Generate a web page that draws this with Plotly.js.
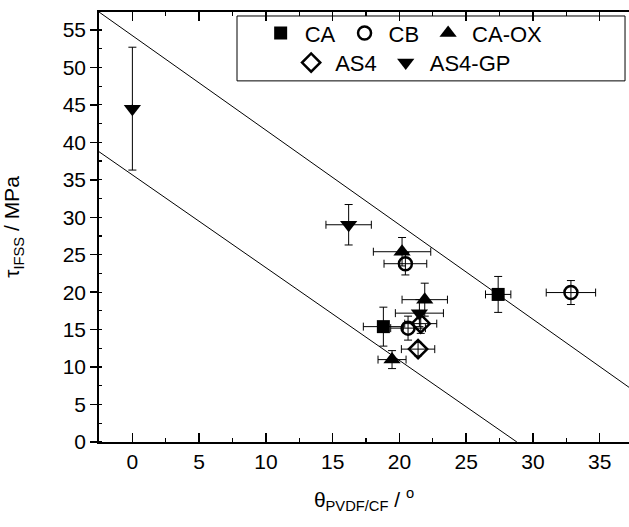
<!DOCTYPE html>
<html>
<head>
<meta charset="utf-8">
<script src="https://cdn.plot.ly/plotly-3.0.1.min.js"></script>
<style>html,body{margin:0;padding:0;background:#fff;}#chart{width:629px;height:527px;}</style>
</head>
<body>
<div id="chart"></div>
<script>
// Series data: theta (x), tau (y), x error, y error
const caX = [18.8, 27.4];
const caY = [15.4, 19.7];
const caEx = [1.5, 0.95];
const caEy = [2.6, 2.4];

const cbX = [20.45, 20.65, 32.85];
const cbY = [23.8, 15.2, 19.95];
const cbEx = [1.6, 1.3, 1.85];
const cbEy = [1.5, 1.6, 1.6];

const caoxX = [20.2, 21.9, 19.45];
const caoxY = [25.4, 19.0, 11.0];
const caoxEx = [2.15, 1.7, 1.05];
const caoxEy = [1.9, 2.2, 1.2];

const as4X = [21.6, 21.4];
const as4Y = [15.8, 12.4];
const as4Ex = [1.2, 1.25];
const as4Ey = [1.3, 0.9];

const as4gpX = [0, 16.2, 21.5];
const as4gpY = [44.5, 29.0, 17.2];
const as4gpEx = [0, 1.7, 1.8];
const as4gpEy = [8.2, 2.7, 1.8];

// Guide lines
const upperLineX = [-2.5, 37.2];
const upperLineY = [57.4, 7.3];
const lowerLineX = [-2.5, 28.8];
const lowerLineY = [38.75, 0];

const xTicks = [0, 5, 10, 15, 20, 25, 30, 35];
const yTicks = [0, 5, 10, 15, 20, 25, 30, 35, 40, 45, 50, 55];

const FONT = 'Liberation Sans, Arial, sans-serif';
const errStyle = {type: 'data', symmetric: true, color: '#000', thickness: 1, width: 4};

function series(name, x, y, ex, ey, marker, legend) {
  return {
    type: 'scatter', mode: 'markers', name: name, x: x, y: y,
    marker: marker, legend: legend,
    error_x: Object.assign({array: ex}, errStyle),
    error_y: Object.assign({array: ey}, errStyle),
    cliponaxis: false
  };
}

const data = [
  {type: 'scatter', mode: 'lines', x: upperLineX, y: upperLineY, line: {color: '#000', width: 1}, showlegend: false, hoverinfo: 'skip'},
  {type: 'scatter', mode: 'lines', x: lowerLineX, y: lowerLineY, line: {color: '#000', width: 1}, showlegend: false, hoverinfo: 'skip'},
  series('CA', caX, caY, caEx, caEy, {symbol: 'square', size: 13, color: '#000', line: {width: 0}}, 'legend'),
  series('CB', cbX, cbY, cbEx, cbEy, {symbol: 'circle-open', size: 13, color: '#000', line: {width: 2.5, color: '#000'}}, 'legend'),
  series('CA-OX', caoxX, caoxY, caoxEx, caoxEy, {symbol: 'triangle-up', size: 15, color: '#000', line: {width: 0}}, 'legend'),
  series('AS4', as4X, as4Y, as4Ex, as4Ey, {symbol: 'diamond-open', size: 14, color: '#000', line: {width: 2.5, color: '#000'}}, 'legend2'),
  series('AS4-GP', as4gpX, as4gpY, as4gpEx, as4gpEy, {symbol: 'triangle-down', size: 15, color: '#000', line: {width: 0}}, 'legend2')
];

const layout = {
  width: 629, height: 527,
  margin: {l: 99, r: 0, t: 12, b: 85},
  paper_bgcolor: '#fff', plot_bgcolor: '#fff',
  font: {family: FONT, size: 21, color: '#000'},
  showlegend: true,
  xaxis: {
    range: [-2.5, 37.2], tickvals: xTicks, ticks: 'inside', ticklen: 9, tickwidth: 1.5, tickcolor: '#000',
    minor: {dtick: 2.5, ticks: 'inside', ticklen: 4, tickwidth: 1.2, tickcolor: '#000'},
    showline: true, linewidth: 1.8, linecolor: '#000', mirror: 'ticks', showgrid: false, zeroline: false,
    tickfont: {size: 21},
    title: {text: 'θ<sub>PVDF/CF</sub> / <sup>o</sup>', font: {size: 21}, standoff: 20}
  },
  yaxis: {
    range: [0, 57.4], tickvals: yTicks, ticks: 'outside', ticklen: 7, tickwidth: 1.5, tickcolor: '#000',
    minor: {dtick: 2.5, ticks: 'inside', ticklen: 3, tickwidth: 1.2, tickcolor: '#000'},
    showline: true, linewidth: 1.8, linecolor: '#000', showgrid: false, zeroline: false,
    tickfont: {size: 21},
    title: {text: 'τ<sub>IFSS</sub> / MPa', font: {size: 21}, standoff: 37}
  },
  legend: {
    orientation: 'h', x: 0.572, xanchor: 'center', y: 0.9505, yanchor: 'middle',
    bgcolor: 'rgba(0,0,0,0)', borderwidth: 0, font: {size: 22}, itemwidth: 38
  },
  legend2: {
    orientation: 'h', x: 0.571, xanchor: 'center', y: 0.8820, yanchor: 'middle',
    bgcolor: 'rgba(0,0,0,0)', borderwidth: 0, font: {size: 22}, itemwidth: 38
  },
  shapes: [
    {type: 'rect', xref: 'paper', yref: 'paper', x0: 0.2604, x1: 0.9925, y0: 0.8398, y1: 0.9907,
     line: {color: '#000', width: 1}, fillcolor: 'rgba(0,0,0,0)'}
  ]
};

Plotly.newPlot('chart', data, layout, {displayModeBar: false, staticPlot: true});
</script>
</body>
</html>
